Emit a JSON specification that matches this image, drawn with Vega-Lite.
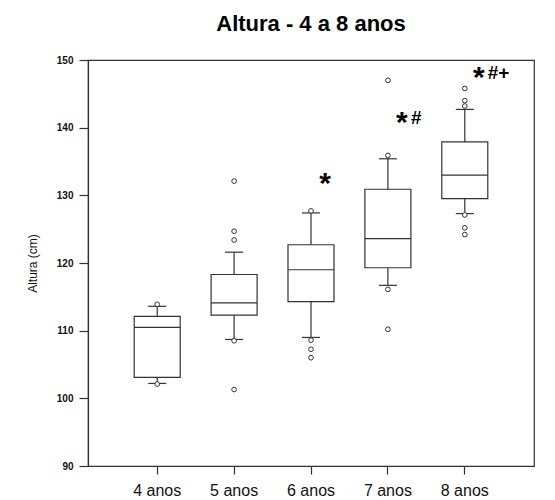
{
  "$schema": "https://vega.github.io/schema/vega-lite/v6.json",
  "autosize": {"type": "none"},
  "width": 446,
  "height": 406,
  "padding": {"left": 88, "top": 60, "right": 21, "bottom": 34},
  "background": "white",
  "title": {
    "text": "Altura - 4 a 8 anos",
    "font": "Liberation Sans",
    "fontSize": 22,
    "fontWeight": "bold",
    "color": "#000000",
    "anchor": "middle",
    "offset": 19
  },
  "config": {
    "view": {"stroke": "#333333", "strokeWidth": 1.2},
    "axis": {
      "domainColor": "#333333",
      "domainWidth": 1.2,
      "tickColor": "#333333",
      "tickWidth": 1.2,
      "grid": false,
      "labelFont": "Liberation Sans",
      "titleFont": "Liberation Sans",
      "labelColor": "#111111",
      "titleColor": "#111111"
    }
  },
  "datasets": {
    "boxes": [
      {"grupo": "4 anos", "lower": 102.2, "q1": 103.1, "median": 110.5, "q3": 112.1, "upper": 113.6},
      {"grupo": "5 anos", "lower": 108.7, "q1": 112.3, "median": 114.1, "q3": 118.3, "upper": 121.6},
      {"grupo": "6 anos", "lower": 109.0, "q1": 114.3, "median": 119.0, "q3": 122.7, "upper": 127.4},
      {"grupo": "7 anos", "lower": 116.7, "q1": 119.3, "median": 123.6, "q3": 130.9, "upper": 135.4},
      {"grupo": "8 anos", "lower": 127.3, "q1": 129.5, "median": 133.0, "q3": 137.9, "upper": 142.7}
    ],
    "outliers": [
      {"grupo": "4 anos", "altura": 113.9},
      {"grupo": "4 anos", "altura": 102.1},
      {"grupo": "5 anos", "altura": 132.1},
      {"grupo": "5 anos", "altura": 124.7},
      {"grupo": "5 anos", "altura": 123.4},
      {"grupo": "5 anos", "altura": 108.5},
      {"grupo": "5 anos", "altura": 101.3},
      {"grupo": "6 anos", "altura": 127.7},
      {"grupo": "6 anos", "altura": 108.6},
      {"grupo": "6 anos", "altura": 107.25},
      {"grupo": "6 anos", "altura": 106.0},
      {"grupo": "7 anos", "altura": 147.0},
      {"grupo": "7 anos", "altura": 135.9},
      {"grupo": "7 anos", "altura": 116.1},
      {"grupo": "7 anos", "altura": 110.2},
      {"grupo": "8 anos", "altura": 145.8},
      {"grupo": "8 anos", "altura": 144.0},
      {"grupo": "8 anos", "altura": 143.2},
      {"grupo": "8 anos", "altura": 127.1},
      {"grupo": "8 anos", "altura": 125.2},
      {"grupo": "8 anos", "altura": 124.2}
    ],
    "notes": [
      {"grupo": "6 anos", "y": 132.4, "star": "*", "extra": ""},
      {"grupo": "7 anos", "y": 141.5, "star": "*", "extra": "#"},
      {"grupo": "8 anos", "y": 148.1, "star": "*", "extra": "#+"}
    ]
  },
  "encoding": {
    "x": {
      "field": "grupo",
      "type": "nominal",
      "sort": ["4 anos", "5 anos", "6 anos", "7 anos", "8 anos"],
      "scale": {"type": "band", "paddingInner": 0, "paddingOuter": 0.4},
      "axis": {
        "title": null,
        "labelAngle": 0,
        "labelFontSize": 16,
        "tickSize": 8,
        "labelPadding": 8
      }
    }
  },
  "layer": [
    {
      "data": {"name": "boxes"},
      "mark": {"type": "rule", "color": "#333333", "strokeWidth": 1.2},
      "encoding": {
        "y": {
          "field": "lower",
          "type": "quantitative",
          "scale": {"domain": [90, 150], "nice": false, "zero": false},
          "axis": {
            "title": "Altura (cm)",
            "values": [90, 100, 110, 120, 130, 140, 150],
            "labelFontSize": 10,
            "labelFontWeight": "bold",
            "tickSize": 9,
            "labelPadding": 6,
            "titleFontSize": 12,
            "titleFontWeight": "normal",
            "titlePadding": 17
          }
        },
        "y2": {"field": "upper"}
      }
    },
    {
      "data": {"name": "boxes"},
      "mark": {"type": "bar", "size": 46, "fill": "white", "stroke": "#333333", "strokeWidth": 1.2},
      "encoding": {
        "y": {"field": "q1", "type": "quantitative"},
        "y2": {"field": "q3"}
      }
    },
    {
      "data": {"name": "boxes"},
      "mark": {"type": "tick", "size": 46, "thickness": 1.2, "color": "#333333", "opacity": 1},
      "encoding": {"y": {"field": "median", "type": "quantitative"}}
    },
    {
      "data": {"name": "boxes"},
      "mark": {"type": "tick", "size": 18, "thickness": 1.2, "color": "#333333", "opacity": 1},
      "encoding": {"y": {"field": "lower", "type": "quantitative"}}
    },
    {
      "data": {"name": "boxes"},
      "mark": {"type": "tick", "size": 18, "thickness": 1.2, "color": "#333333", "opacity": 1},
      "encoding": {"y": {"field": "upper", "type": "quantitative"}}
    },
    {
      "data": {"name": "outliers"},
      "mark": {"type": "point", "shape": "circle", "filled": false, "size": 22, "stroke": "#333333", "strokeWidth": 1, "fill": "white", "opacity": 1},
      "encoding": {"y": {"field": "altura", "type": "quantitative"}}
    },
    {
      "data": {"name": "notes"},
      "mark": {"type": "text", "font": "Liberation Sans", "fontWeight": "bold", "fontSize": 30, "align": "center", "baseline": "middle", "dx": 14, "dy": 5, "color": "#000000"},
      "encoding": {
        "y": {"field": "y", "type": "quantitative"},
        "text": {"field": "star"}
      }
    },
    {
      "data": {"name": "notes"},
      "mark": {"type": "text", "font": "Liberation Sans", "fontWeight": "bold", "fontSize": 19, "align": "left", "baseline": "middle", "dx": 23, "dy": 0, "color": "#000000"},
      "encoding": {
        "y": {"field": "y", "type": "quantitative"},
        "text": {"field": "extra"}
      }
    }
  ]
}
